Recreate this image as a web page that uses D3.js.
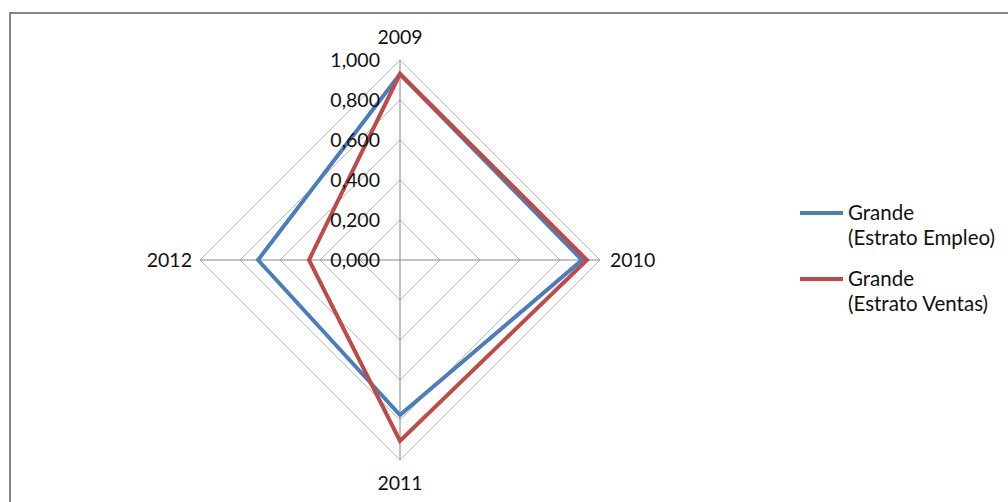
<!DOCTYPE html>
<html><head><meta charset="utf-8">
<script src="https://cdn.jsdelivr.net/npm/d3@7"></script>
<style>body{margin:0;background:#fff}svg{display:block}text{font-family:Lato,"Open Sans",sans-serif;fill:#111}</style>
</head><body><svg id="c" width="1008" height="502"></svg>
<script>
const categories = ["2009","2010","2011","2012"];
const seriesNames = ["Grande\n(Estrato Empleo)","Grande\n(Estrato Ventas)"];
const empleo = [0.930, 0.910, 0.775, 0.710];
const ventas = [0.930, 0.935, 0.905, 0.455];
const tickValues = [0, 0.2, 0.4, 0.6, 0.8, 1.0];
const tickLabels = ["0,000","0,200","0,400","0,600","0,800","1,000"];
const colors = ["#4a7ebb","#be4b48"];

const svg = d3.select("#c");
svg.append("rect").attr("x",10).attr("y",13).attr("width",1100).attr("height",600)
  .attr("fill","#fff").attr("stroke","#868686").attr("stroke-width",2);

const cx = 400, cy = 260;
const r = d3.scaleLinear().domain([0,1]).range([0,200]);
const ang = d3.scaleBand().domain(categories).range([0, 2*Math.PI]).paddingInner(0).paddingOuter(0);
const angle = c => ang(c);
const pt = (c,v) => [cx + r(v)*Math.sin(angle(c)), cy - r(v)*Math.cos(angle(c))];

const g = svg.append("g");
tickValues.filter(v=>v>0).forEach(v=>{
  g.append("path").attr("d", d3.line()(categories.map(c=>pt(c,v))) + "Z")
    .attr("fill","none").attr("stroke","#bcbcbc").attr("stroke-width",1);
});
categories.forEach(c=>{
  const p = pt(c,1);
  g.append("line").attr("x1",cx).attr("y1",cy).attr("x2",p[0]).attr("y2",p[1])
    .attr("stroke","#868686").attr("stroke-width",1);
});
[empleo, ventas].forEach((vals,i)=>{
  g.append("path").attr("d", d3.line()(categories.map((c,j)=>pt(c,vals[j]))) + "Z")
    .attr("fill","none").attr("stroke",colors[i]).attr("stroke-width",4).attr("stroke-linejoin","miter");
});
tickValues.forEach((v,i)=>{
  g.append("text").attr("x",380).attr("y",cy - r(v)).attr("dy","0.36em")
    .attr("text-anchor","end").attr("font-size",19.5).text(tickLabels[i]);
});
const catPos = {
  "2009": {x:cx, y:cy - r(1) - 16, a:"middle"},
  "2010": {x:cx + r(1) + 10, y:cy + 7, a:"start"},
  "2011": {x:cx, y:cy + r(1) + 30, a:"middle"},
  "2012": {x:cx - r(1) - 8, y:cy + 7, a:"end"}
};
categories.forEach(c=>{
  const p = catPos[c];
  g.append("text").attr("x",p.x).attr("y",p.y).attr("text-anchor",p.a).attr("font-size",19.5).text(c);
});
seriesNames.forEach((n,i)=>{
  const y0 = 213 + i*66;
  svg.append("line").attr("x1",800).attr("x2",843).attr("y1",y0).attr("y2",y0)
    .attr("stroke",colors[i]).attr("stroke-width",4);
  const t = svg.append("text").attr("x",848).attr("y",y0+7).attr("font-size",20.5);
  n.split("\n").forEach((s,k)=>{
    t.append("tspan").attr("x",848).attr("dy",k?25:0).text(s);
  });
});
</script></body></html>
